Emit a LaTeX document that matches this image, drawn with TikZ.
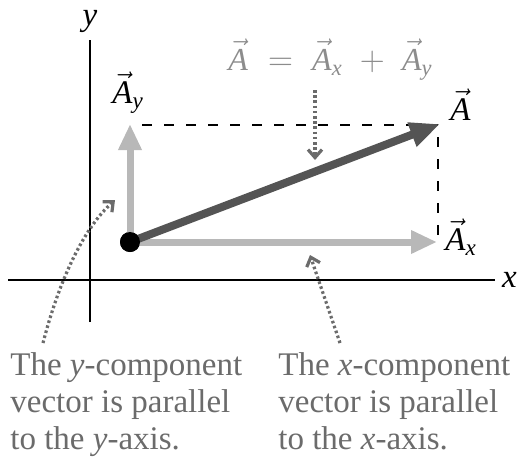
\documentclass[tikz,border=0pt]{standalone}
\usepackage{amsmath}
\usepackage{fontspec}
\setmainfont{Liberation Serif}
\usetikzlibrary{arrows.meta,positioning}
\definecolor{compgray}{gray}{0.72}
\definecolor{resgray}{gray}{0.33}
\definecolor{notegray}{gray}{0.42}
\definecolor{eqgray}{gray}{0.55}
% vector A with optional italic subscript
\newcommand{\vA}[1][]{\ensuremath{\vec{\text{\itshape A}}_{\text{\itshape #1}}}}

\begin{document}
\begin{tikzpicture}[x=0.5pt, y=0.5pt, font=\fontsize{16.5}{18.5}\selectfont,
    axis/.style={line width=1pt},
    comp/.style={compgray, line width=3.5pt, -{Triangle[length=13pt,width=11pt]}},
    result/.style={resgray, line width=4pt, -{Triangle[length=15pt,width=12pt]}},
    guide/.style={dash pattern=on 5pt off 6pt, line width=1pt},
    pointer/.style={notegray, line width=1.6pt, dash pattern=on 1.3pt off 1.3pt, -{Straight Barb[length=4pt,width=7pt]}},
    dot/.style={circle, fill=black, minimum size=10pt, inner sep=0pt},
    caption/.style={notegray, align=left, anchor=north west, inner sep=0pt}]
\useasboundingbox (0,0) rectangle (529,462);
% axes
\coordinate (xl) at (8,182); \coordinate (xr) at (495,182);
\coordinate (yb) at (90,140); \coordinate (yt) at (90,422);
\draw[axis] (xl) -- (xr);
\draw[axis] (yb) -- (yt);
\node[right] (xlab) at (xr) {\textit{x}};
\node[above] (ylab) at (yt) {\textit{y}};
% vectors
\node[dot] (origin) at (130,220) {};
\coordinate (Axtip) at (437,220);
\coordinate (Aytip) at (130,338);
\coordinate (Atip) at (440,338);
\coordinate (ystop) at (142,337); \coordinate (corner) at (438,337); \coordinate (xstop) at (438,224);
\draw[guide] (ystop) -- (corner) -- (xstop);
\draw[comp] (origin.center) -- (Axtip);
\draw[comp] (origin.center) -- (Aytip);
\draw[result] (origin.center) -- (Atip);
\node[dot] at (origin) {};
% labels
\node[anchor=base west, inner sep=0pt] (Alab) at (450,342) {\vA};
\node[anchor=base west, inner sep=0pt] (Axlab) at (445,212) {\vA[x]};
\node[anchor=base west, inner sep=0pt] (Aylab) at (112,359) {\vA[y]};
\node[anchor=base west, inner sep=0pt, eqgray, font=\fontsize{16}{18}\selectfont] (sum) at (228,392) {$\vA \;=\; \vA[x] \;+\; \vA[y]$};
% captions
\node[caption] (ycap) at (10,110) {The \textit{y}-component\\vector is parallel\\to the \textit{y}-axis.};
\node[caption] (xcap) at (278,110) {The \textit{x}-component\\vector is parallel\\to the \textit{x}-axis.};
% pointers
\coordinate (sumstart) at (315,372); \coordinate (sumend) at (315,302);
\coordinate (xstart) at (340,119); \coordinate (xend) at (310,207);
\coordinate (ystart) at (43,119); \coordinate (yend) at (115,262);
\draw[pointer] (sumstart) -- (sumend);
\draw[pointer] (xstart) -- (xend);
\draw[pointer] (ystart) .. controls (60,185) and (85,235) .. (yend);
\end{tikzpicture}
\end{document}
